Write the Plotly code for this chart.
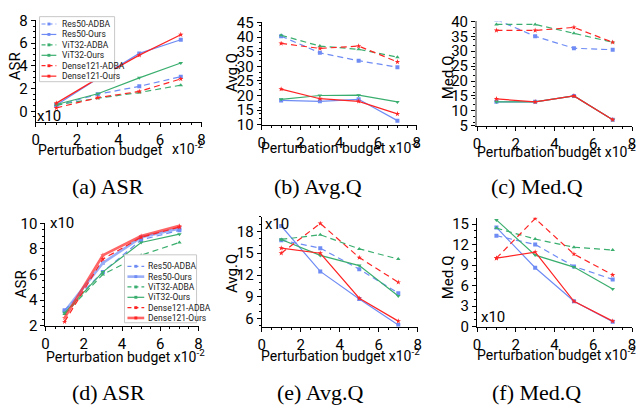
import plotly.graph_objects as go

W, H = 642, 414

budget = [1, 3, 5, 7]
series_names = ["Res50-ADBA", "Res50-Ours", "ViT32-ADBA", "ViT32-Ours", "Dense121-ADBA", "Dense121-Ours"]

asr_a = {
    "Res50-ADBA": [0.5, 1.5, 2.2, 3.05],
    "Res50-Ours": [0.55, 2.9, 5.1, 6.3],
    "ViT32-ADBA": [0.55, 1.15, 1.65, 2.3],
    "ViT32-Ours": [0.6, 1.55, 2.95, 4.25],
    "Dense121-ADBA": [0.3, 1.2, 1.75, 2.85],
    "Dense121-Ours": [0.72, 2.9, 4.95, 6.75],
}
avgq_b = {
    "Res50-ADBA": [40.3, 34.6, 31.9, 29.7],
    "Res50-Ours": [18.3, 18.0, 18.7, 11.4],
    "ViT32-ADBA": [40.6, 36.9, 35.8, 33.1],
    "ViT32-Ours": [18.7, 20.0, 20.1, 17.8],
    "Dense121-ADBA": [37.8, 36.1, 36.9, 31.5],
    "Dense121-Ours": [22.2, 18.9, 18.0, 13.7],
}
medq_c = {
    "Res50-ADBA": [40.6, 35, 31, 30.5],
    "Res50-Ours": [13, 13, 15, 7],
    "ViT32-ADBA": [39, 39, 36, 33],
    "ViT32-Ours": [13, 13, 15, 7],
    "Dense121-ADBA": [37, 37, 38, 33],
    "Dense121-Ours": [14, 13, 15, 7],
}
asr_d = {
    "Res50-ADBA": [3.2, 6.2, 8.7, 9.45],
    "Res50-Ours": [3.1, 6.9, 8.9, 9.6],
    "ViT32-ADBA": [2.9, 6.0, 7.5, 8.5],
    "ViT32-Ours": [3.0, 6.2, 8.5, 9.15],
    "Dense121-ADBA": [2.3, 7.2, 8.9, 9.7],
    "Dense121-Ours": [2.6, 7.5, 9.0, 9.8],
}
avgq_e = {
    "Res50-ADBA": [16.8, 15.7, 12.8, 9.5],
    "Res50-Ours": [18.75, 12.5, 8.7, 5.1],
    "ViT32-ADBA": [16.9, 17.55, 15.6, 14.2],
    "ViT32-Ours": [16.9, 14.7, 13.3, 9.1],
    "Dense121-ADBA": [15.0, 19.1, 14.4, 11.0],
    "Dense121-Ours": [15.7, 15.0, 8.8, 5.65],
}
medq_f = {
    "Res50-ADBA": [13.3, 12.0, 8.8, 6.9],
    "Res50-Ours": [14.5, 8.6, 3.7, 0.7],
    "ViT32-ADBA": [14.4, 12.8, 11.6, 11.2],
    "ViT32-Ours": [15.6, 10.45, 8.7, 5.5],
    "Dense121-ADBA": [10.0, 15.8, 10.6, 7.55],
    "Dense121-Ours": [10.0, 10.9, 3.7, 0.8],
}

x_ticks = [0, 2, 4, 6, 8]
y_ticks = {
    "a": [0, 2, 4, 6, 8],
    "b": [10, 15, 20, 25, 30, 35, 40, 45],
    "c": [5, 10, 15, 20, 25, 30, 35, 40],
    "d": [2, 4, 6, 8, 10],
    "e": [6, 9, 12, 15, 18],
    "f": [0, 3, 6, 9, 12, 15],
}
captions = {"a": "(a) ASR", "b": "(b) Avg.Q", "c": "(c) Med.Q",
            "d": "(d) ASR", "e": "(e) Avg.Q", "f": "(f) Med.Q"}
ytitles = {"a": "ASR", "b": "Avg.Q", "c": "Med.Q", "d": "ASR", "e": "Avg.Q", "f": "Med.Q"}

BLUE = "#6f8cf4"
GREEN = "#3aae6e"
RED = "#ff2424"
style = {
    "Res50-ADBA": dict(color=BLUE, dash="6px,4px", symbol="square"),
    "Res50-Ours": dict(color=BLUE, dash="solid", symbol="square"),
    "ViT32-ADBA": dict(color=GREEN, dash="6px,4px", symbol="triangle-up"),
    "ViT32-Ours": dict(color=GREEN, dash="solid", symbol="triangle-down"),
    "Dense121-ADBA": dict(color=RED, dash="6px,4px", symbol="star"),
    "Dense121-Ours": dict(color=RED, dash="solid", symbol="star"),
}

SANS = "Roboto"
SERIF = "Liberation Serif"


def px(x):
    return x / W


def py(y):
    return 1 - y / H


# panel geometry in pixels: left, right, top, bottom, y-range
panels = {
    "a": dict(data=asr_a, l=32, r=200, t=12, b=118, yr=[-0.93, 8]),
    "b": dict(data=avgq_b, l=261, r=418, t=14, b=121, yr=[10, 45]),
    "c": dict(data=medq_c, l=479, r=636, t=13, b=122, yr=[5, 40]),
    "d": dict(data=asr_d, l=42, r=197, t=224, b=331, yr=[2, 10]),
    "e": dict(data=avgq_e, l=261, r=419, t=217, b=332, yr=[4.9, 20.05]),
    "f": dict(data=medq_f, l=479, r=636, t=218, b=332, yr=[0, 15.95]),
}

fig = go.Figure()
annotations = []
shapes = []

for i, (key, p) in enumerate(panels.items()):
    n = "" if i == 0 else str(i + 1)
    xa, ya = "x" + n, "y" + n
    for name in series_names:
        s = style[name]
        width = 1.2
        opacity = 1.0
        if key == "d" and name in ("Res50-Ours", "Dense121-Ours"):
            width = 2.6
            opacity = 0.7
        fig.add_trace(go.Scatter(
            x=budget, y=p["data"][name], name=name, mode="lines+markers",
            xaxis=xa, yaxis=ya, showlegend=False, opacity=opacity,
            line=dict(color=s["color"], dash=s["dash"], width=width),
            marker=dict(symbol=s["symbol"], size=4, color=s["color"]),
        ))
    axis_common = dict(showgrid=False, zeroline=False, showline=True, linecolor="black",
                       linewidth=1, ticks="outside", ticklen=4, tickcolor="black",
                       tickfont=dict(family=SANS, size=15, color="black"),
                       minor=dict(ticks="outside", ticklen=2, tickcolor="black"))
    fig.update_layout(**{
        "xaxis" + n: dict(domain=[px(p["l"]), px(p["r"])], anchor=ya, range=[0, 8],
                          tickvals=x_ticks, ticklabelstandoff=0, **axis_common),
        "yaxis" + n: dict(domain=[py(p["b"]), py(p["t"])], anchor=xa, range=p["yr"],
                          tickvals=y_ticks[key], **axis_common),
    })

fig.layout.yaxis3.linecolor = "#9a9a9a"
fig.layout.yaxis3.linewidth = 2

# axis titles & captions
xtitle_pos = {"a": (32, 147, 168, 145), "b": (258, 144, None, None), "c": (477, 148, None, None),
              "d": (40, 363, None, None), "e": (258, 362, None, None), "f": (477, 361, None, None)}
ytitle_pos = {"a": (12, 60), "b": (231, 67), "c": (450, 71), "d": (18, 288), "e": (231, 277), "f": (449, 280)}
caption_pos = {"a": (105, 186), "b": (318, 186), "c": (540, 186), "d": (106, 401), "e": (320, 401), "f": (539, 401)}
x10_pos = {"a": (31, 112), "d": (45, 224), "e": (262, 225), "f": (481, 322)}

for key in panels:
    xl, yc, xs, ys = xtitle_pos[key]
    if xs is None:
        annotations.append(dict(text="Perturbation budget x10<sup>-2</sup>", x=px(xl), y=py(yc),
                                xref="paper", yref="paper", xanchor="left", yanchor="middle",
                                showarrow=False, font=dict(family=SANS, size=14, color="black")))
    else:
        annotations.append(dict(text="Perturbation budget", x=px(xl), y=py(yc),
                                xref="paper", yref="paper", xanchor="left", yanchor="middle",
                                showarrow=False, font=dict(family=SANS, size=14, color="black")))
        annotations.append(dict(text="x10<sup>-2</sup>", x=px(xs), y=py(ys),
                                xref="paper", yref="paper", xanchor="left", yanchor="middle",
                                showarrow=False, font=dict(family=SANS, size=14, color="black")))
    tx, ty = ytitle_pos[key]
    annotations.append(dict(text=ytitles[key], x=px(tx), y=py(ty), xref="paper", yref="paper",
                            textangle=-90, showarrow=False, xanchor="center", yanchor="middle",
                            font=dict(family=SANS, size=15, color="black")))
    cx, cy = caption_pos[key]
    annotations.append(dict(text=captions[key], x=px(cx), y=py(cy), xref="paper", yref="paper",
                            showarrow=False, xanchor="center", yanchor="middle",
                            font=dict(family=SERIF, size=22, color="black")))
for key, (xx, yy) in x10_pos.items():
    annotations.append(dict(text="x10", x=px(xx), y=py(yy), xref="paper", yref="paper",
                            showarrow=False, xanchor="left", yanchor="middle",
                            font=dict(family=SANS, size=15, color="black")))


def add_legend(left, top, right, bottom, row0, row_h, line_x0, line_x1, text_x, fsize, thick=()):
    shapes.append(dict(type="rect", xref="paper", yref="paper", x0=px(left), x1=px(right),
                       y0=py(bottom), y1=py(top), line=dict(color="#c8c8c8", width=1),
                       fillcolor="white", layer="above"))
    for j, name in enumerate(series_names):
        s = style[name]
        yy = row0 + j * row_h
        shapes.append(dict(type="line", xref="paper", yref="paper", x0=px(line_x0), x1=px(line_x1),
                           y0=py(yy), y1=py(yy), layer="above",
                           opacity=0.7 if name in thick else 1.0,
                           line=dict(color=s["color"], width=2.6 if name in thick else 1.2,
                                     dash="solid" if s["dash"] == "solid" else "4px,3px")))
        mx = (line_x0 + line_x1) / 2
        shapes.append(dict(type="rect", xref="paper", yref="paper", x0=px(mx - 1.5), x1=px(mx + 1.5),
                           y0=py(yy + 1.5), y1=py(yy - 1.5), layer="above",
                           line=dict(width=0), fillcolor=s["color"]))
        annotations.append(dict(text=name, x=px(text_x), y=py(yy), xref="paper", yref="paper",
                                showarrow=False, xanchor="left", yanchor="middle",
                                font=dict(family=SANS, size=fsize, color="#222")))


add_legend(36, 8, 112, 76, 15.7, 10.9, 38, 53, 57, 8.5)
add_legend(122, 257, 195, 328, 269, 10.8, 125, 142, 144, 8.5, thick=("Res50-Ours", "Dense121-Ours"))

fig.update_layout(width=W, height=H, autosize=False, margin=dict(l=0, r=0, t=0, b=0),
                  plot_bgcolor="white", paper_bgcolor="white",
                  annotations=annotations, shapes=shapes, showlegend=False)

fig.write_html("out.html", config={"displayModeBar": False},
               post_script="document.body.style.margin='0';document.body.style.overflow='hidden';")
